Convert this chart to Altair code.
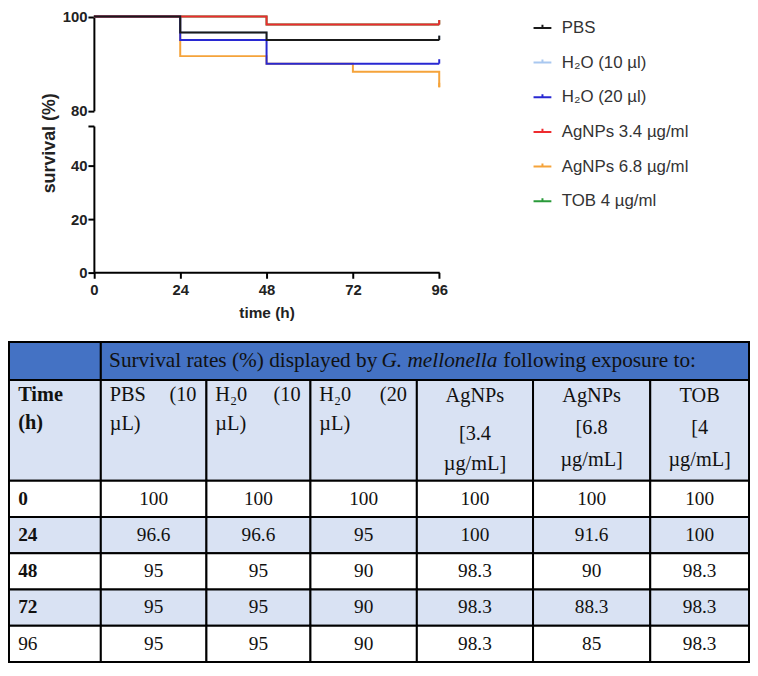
import altair as alt
import pandas as pd

# ---------------- data ----------------
times = [0, 24, 48, 72, 96]
series = ["PBS", "H₂O (10 µl)", "H₂O (20 µl)", "AgNPs 3.4 µg/ml", "AgNPs 6.8 µg/ml", "TOB 4 µg/ml"]
colors = ["#1a1a1a", "#a9c8f0", "#2828d2", "#ee2b2f", "#f5a33a", "#2a9a3a"]
pbs = [100, 96.6, 95, 95, 95]
h2o_10 = [100, 96.6, 95, 95, 95]
h2o_20 = [100, 95, 90, 90, 90]
agnps_34 = [100, 100, 98.3, 98.3, 98.3]
agnps_68 = [100, 91.6, 90, 88.3, 85]
tob = [100, 100, 98.3, 98.3, 98.3]
values = [pbs, h2o_10, h2o_20, agnps_34, agnps_68, tob]
draw_order = ["TOB 4 µg/ml", "AgNPs 6.8 µg/ml", "H₂O (10 µl)", "H₂O (20 µl)", "AgNPs 3.4 µg/ml", "PBS"]

upper_ticks = [80, 100]
lower_ticks = [0, 20, 40, 55]
x_ticks = [0, 24, 48, 72, 96]

table_title = ["Survival rates (%) displayed by", "G. mellonella", "following exposure to:"]
time_head = ["Time", "(h)"]
head_left = ["PBS", "H₂0", "H₂0"]
head_right = ["(10", "(10", "(20"]
head_second = ["µL)", "µL)", "µL)"]
head_center = [["AgNPs", "[3.4", "µg/mL]"], ["AgNPs", "[6.8", "µg/mL]"], ["TOB", "[4", "µg/mL]"]]
time_labels = ["0", "24", "48", "72", "96"]
time_bold = [True, True, True, True, False]

# ---------------- layout ----------------
W, H = 749, 658
X_RANGE = [86.7, 435.3]
UP_RANGE = [100.7, 5.5]
LOW_RANGE = [263.7, 116.0]
LOW_MAX = 55
SANS = "Liberation Sans"
SERIF = "Liberation Serif"

col_edges = [1, 93.7, 200.3, 305.3, 412.7, 530, 648.3, 748]
row_edges = [334, 372.3, 474, 510.6, 547.2, 583.8, 620.4, 657]
row_fills = ["#4472c4", "#d9e2f3", "#ffffff", "#d9e2f3", "#ffffff", "#d9e2f3", "#ffffff"]
title_x = [102, 377, 500]

# ---------------- KM chart ----------------
km_df = pd.DataFrame(
    [{"series": s, "time": t, "value": v} for s, vals in zip(series, values) for t, v in zip(times, vals)]
)

x_scale = alt.Scale(domain=[0, 96], range=X_RANGE, nice=False, zero=False)
y_up = alt.Scale(domain=[80, 100], range=UP_RANGE, nice=False, zero=False)
y_low = alt.Scale(domain=[0, LOW_MAX], range=LOW_RANGE, nice=False, zero=False)
color_scale = alt.Scale(domain=series, range=colors)

axis_style = dict(
    grid=False, domainColor="black", domainWidth=2, tickColor="black", tickWidth=2, tickSize=6,
    labelFont=SANS, labelFontSize=15, labelFontWeight="bold", labelColor="#222",
    labelFlush=False, labelOverlap=False,
)
up_axis = alt.Axis(orient="left", values=upper_ticks, offset=-X_RANGE[0], title=None, labelPadding=1, **axis_style)
low_axis = alt.Axis(
    orient="left", values=lower_ticks, offset=-X_RANGE[0], labelPadding=1,
    labelExpr="datum.value > 50 ? '' : datum.label",
    title="survival (%)", titleFont=SANS, titleFontSize=18, titleFontWeight="bold", titleColor="#222",
    titleAngle=270, titleAlign="center", titleBaseline="middle", titleX=-44.7, titleY=133,
    **axis_style,
)
x_axis = alt.Axis(
    orient="bottom", values=x_ticks, offset=LOW_RANGE[0] - H, labelPadding=4,
    title="time (h)", titleFont=SANS, titleFontSize=15.5, titleFontWeight="bold", titleColor="#222",
    titleAlign="center", titleBaseline="top", titleX=(X_RANGE[0] + X_RANGE[1]) / 2, titleY=34,
    **axis_style,
)

upper_layers = []
for name in draw_order:
    base = alt.Chart(km_df).transform_filter(alt.FieldEqualPredicate(field="series", equal=name))
    enc = dict(
        x=alt.X("time:Q", scale=x_scale, axis=None),
        y=alt.Y("value:Q", scale=y_up, axis=up_axis),
        color=alt.Color("series:N", scale=color_scale, legend=None),
    )
    upper_layers.append(base.mark_line(interpolate="step-after", strokeWidth=2).encode(**enc))
    upper_layers.append(
        base.transform_filter(alt.datum.time == 96)
        .mark_point(shape="M0,0V-1", size=81, filled=False, strokeWidth=2, opacity=1)
        .encode(**enc)
    )
upper = alt.layer(*upper_layers)

lower = alt.Chart(km_df).mark_point(opacity=0, size=1).encode(
    x=alt.X("time:Q", scale=x_scale, axis=x_axis),
    y=alt.Y("value:Q", scale=y_low, axis=low_axis),
)

# ---------------- legend ----------------
leg_df = pd.DataFrame({"series": series, "idx": list(range(len(series)))})
leg_y = alt.Scale(domain=[0, len(series) - 1], range=[17, 192], nice=False, zero=False)
leg_sym = alt.Chart(leg_df).mark_point(
    shape="M-1,0H1M0,0V-0.35", size=324, filled=False, strokeWidth=2, opacity=1
).encode(
    x=alt.value(539.5),
    y=alt.Y("idx:Q", scale=leg_y, axis=None),
    color=alt.Color("series:N", scale=color_scale, legend=None),
)
leg_txt = alt.Chart(leg_df).mark_text(
    align="left", baseline="middle", font=SANS, fontSize=17, color="#333"
).encode(
    x=alt.value(559),
    y=alt.Y("idx:Q", scale=leg_y, axis=None),
    text="series:N",
)
legend = alt.layer(leg_sym, leg_txt)

# ---------------- table ----------------
tx = alt.Scale(domain=[0, W], range=[0, W], nice=False, zero=False)
ty = alt.Scale(domain=[0, H], range=[0, H], nice=False, zero=False)

cells = []
cells.append({"x": col_edges[0], "x2": col_edges[1], "y": row_edges[0], "y2": row_edges[1], "fill": row_fills[0]})
cells.append({"x": col_edges[1], "x2": col_edges[-1], "y": row_edges[0], "y2": row_edges[1], "fill": row_fills[0]})
for r in range(1, len(row_edges) - 1):
    for c in range(len(col_edges) - 1):
        cells.append({"x": col_edges[c], "x2": col_edges[c + 1], "y": row_edges[r], "y2": row_edges[r + 1], "fill": row_fills[r]})
cells_df = pd.DataFrame(cells)

rects = alt.Chart(cells_df).mark_rect(stroke="black", strokeWidth=2).encode(
    x=alt.X("x:Q", scale=tx, axis=None), x2="x2:Q",
    y=alt.Y("y:Q", scale=ty, axis=None), y2="y2:Q",
    fill=alt.Fill("fill:N", scale=None),
)

texts = []  # (x, y, text, align, weight, style, size)
mid_h1 = (row_edges[0] + row_edges[1]) / 2
texts.append((title_x[0], mid_h1, table_title[0], "left", "normal", "normal", 21.5))
texts.append((title_x[1], mid_h1, table_title[1], "left", "normal", "italic", 21.5))
texts.append((title_x[2], mid_h1, table_title[2], "left", "normal", "normal", 21.5))

t = row_edges[1]
texts.append((10.3, t + 15.7, time_head[0], "left", "bold", "normal", 20.5))
texts.append((10.3, t + 43.5, time_head[1], "left", "bold", "normal", 20.5))
for i in range(3):
    c = i + 1
    texts.append((col_edges[c] + 9, t + 15.7, head_left[i], "left", "normal", "normal", 20.5))
    texts.append((col_edges[c + 1] - 10, t + 15.7, head_right[i], "right", "normal", "normal", 20.5))
    texts.append((col_edges[c] + 9, t + 44.2, head_second[i], "left", "normal", "normal", 20.5))
for j in range(3):
    c = j + 4
    cx = (col_edges[c] + col_edges[c + 1]) / 2
    offs = [16.0, 54.6, 84.5] if j == 0 else [16.0, 48.4, 80.5]
    for line, o in zip(head_center[j], offs):
        texts.append((cx, t + o, line, "center", "normal", "normal", 20.5))

for r in range(len(times)):
    ri = r + 2
    cy = (row_edges[ri] + row_edges[ri + 1]) / 2
    texts.append((10.3, cy, time_labels[r], "left", "bold" if time_bold[r] else "normal", "normal", 19.5))
    for c, vals in enumerate(values):
        cx = (col_edges[c + 1] + col_edges[c + 2]) / 2
        texts.append((cx, cy, f"{vals[r]:g}", "center", "normal", "normal", 19.5))

txt_df = pd.DataFrame(texts, columns=["x", "y", "text", "align", "weight", "style", "size"])
text_layers = []
for (al, wt, st, sz), g in txt_df.groupby(["align", "weight", "style", "size"]):
    text_layers.append(
        alt.Chart(g.reset_index(drop=True)).mark_text(
            align=al, baseline="middle", font=SERIF, fontWeight=wt, fontStyle=st, fontSize=float(sz), color="#111"
        ).encode(
            x=alt.X("x:Q", scale=tx, axis=None),
            y=alt.Y("y:Q", scale=ty, axis=None),
            text="text:N",
        )
    )
table = alt.layer(rects, *text_layers)

chart = (
    alt.layer(upper, lower, legend, table)
    .resolve_scale(x="independent", y="independent")
    .properties(width=W, height=H, autosize=alt.AutoSizeParams(type="none"), padding=0)
    .configure_view(stroke=None)
)
chart.save("out.html", embed_options={"renderer": "svg", "actions": False})
